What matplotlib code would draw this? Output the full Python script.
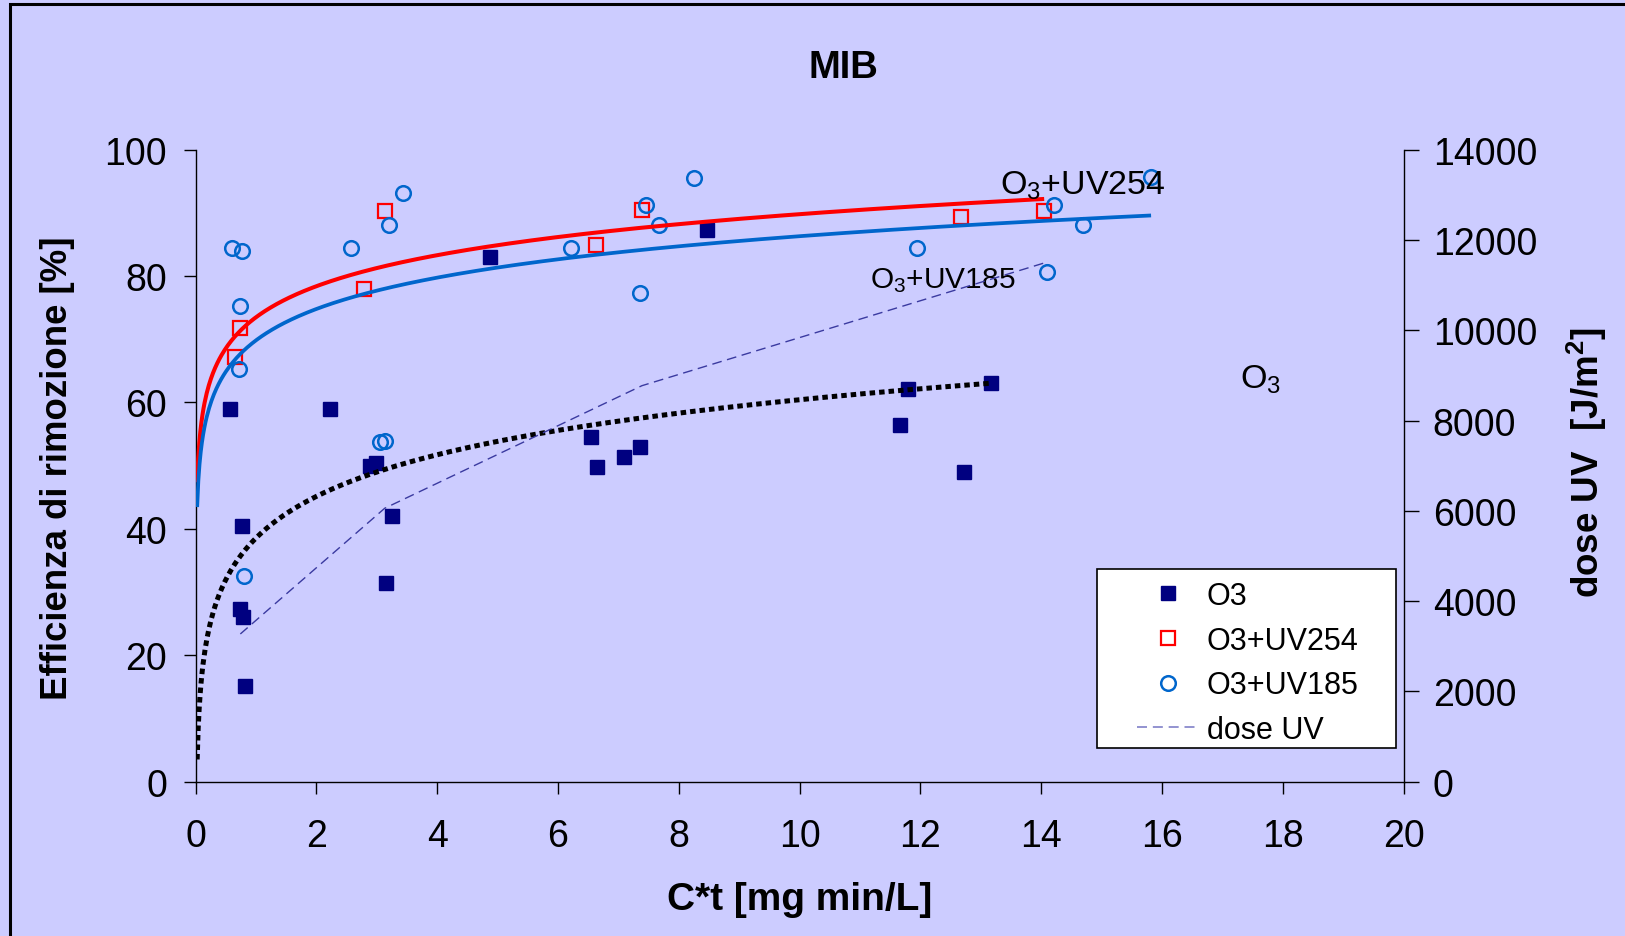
import numpy as np
import matplotlib
matplotlib.use('Agg')
import matplotlib.pyplot as plt
from matplotlib.patches import Rectangle
from matplotlib.lines import Line2D

plt.rcParams['font.family'] = ['Liberation Sans', 'DejaVu Sans']
plt.rcParams['mathtext.fontset'] = 'custom'
plt.rcParams['mathtext.rm'] = 'Liberation Sans'
plt.rcParams['mathtext.bf'] = 'Liberation Sans:bold'
plt.rcParams['mathtext.default'] = 'regular'

# ---------------- data ----------------
o3_x = [0.57, 0.74, 0.76, 0.78, 0.81, 2.22, 2.89, 2.99, 3.16, 3.25,
        4.88, 6.55, 6.65, 7.09, 7.35, 8.47, 11.67, 11.80, 12.73, 13.17]
o3_y = [58.9, 27.3, 40.5, 26.0, 15.2, 58.9, 50.0, 50.5, 31.4, 42.1,
        83.0, 54.6, 49.8, 51.3, 53.0, 87.3, 56.4, 62.1, 49.05, 63.1]

uv254_x = [0.65, 0.74, 2.78, 3.13, 6.63, 7.39, 12.67, 14.05]
uv254_y = [67.15, 71.8, 77.96, 90.35, 84.9, 90.5, 89.3, 90.35]

uv185_x = [0.61, 0.76, 0.74, 0.72, 0.806, 2.58, 3.43, 3.20, 3.05, 3.13,
           6.22, 7.46, 7.67, 7.36, 8.25, 11.95, 14.22, 14.69, 14.09, 15.82]
uv185_y = [84.4, 83.9, 75.2, 65.3, 32.5, 84.4, 93.1, 88.1, 53.7, 53.9,
           84.4, 91.3, 88.1, 77.3, 95.5, 84.4, 91.3, 88.1, 80.7, 95.7]

dose_x = [0.74, 3.13, 7.39, 14.05]
dose_y = [3272, 6056, 8772, 11490]

x_ticks = list(range(0, 21, 2))
y_ticks = list(range(0, 101, 20))
y2_ticks = list(range(0, 14001, 2000))

BG = '#CCCCFF'
NAVY = '#000080'
RED = '#FF0000'
BLUE = '#0066CC'
DOSE = '#3A3AA0'

fig = plt.figure(figsize=(16.25, 9.37), dpi=100, facecolor=BG)
ax = fig.add_axes([0.1204, 0.1647, 0.7433, 0.6745])
ax.set_facecolor(BG)
ax.set_xlim(0, 20)
ax.set_ylim(0, 100)
ax.set_xticks(x_ticks)
ax.set_yticks(y_ticks)
for s in ['top', 'right']:
    ax.spines[s].set_visible(False)
for s in ['left', 'bottom']:
    ax.spines[s].set_linewidth(1.0)
ax.tick_params(axis='x', direction='out', length=8.5, width=1, labelsize=27, pad=17.5)
ax.tick_params(axis='y', direction='out', length=8.5, width=1, labelsize=27, pad=12)

# scatter series
ax.plot(o3_x, o3_y, ls='none', marker='s', ms=10.7, mfc=NAVY, mec=NAVY, mew=1, zorder=2)
ax.plot(uv254_x, uv254_y, ls='none', marker='s', ms=10, mfc='none', mec=RED, mew=1.6, zorder=2)
ax.plot(uv185_x, uv185_y, ls='none', marker='o', ms=10.5, mfc='none', mec=BLUE, mew=1.8, zorder=2)

# logarithmic trend lines fitted from data
def logfit(xs, ys):
    a, b = np.polyfit(np.log(xs), ys, 1)
    xx = np.linspace(0.025, max(xs), 800)
    return xx, a * np.log(xx) + b

xx, yy = logfit(uv254_x, uv254_y)
ax.plot(xx, yy, color=RED, lw=2.9, zorder=3, solid_capstyle='butt')
xx, yy = logfit(uv185_x, uv185_y)
ax.plot(xx, yy, color=BLUE, lw=2.7, zorder=3, solid_capstyle='butt')
xx, yy = logfit(o3_x, o3_y)
ax.plot(xx, yy, color='black', lw=3.6, ls=(0, (1.1, 0.8)), dash_capstyle='butt', zorder=3)

# secondary axis
ax2 = ax.twinx()
ax2.set_ylim(0, 14000)
ax2.set_yticks(y2_ticks)
ax2.patch.set_visible(False)
for s in ['top', 'left', 'bottom']:
    ax2.spines[s].set_visible(False)
ax2.spines['right'].set_linewidth(1.0)
ax2.tick_params(axis='y', direction='out', length=11, width=1, labelsize=27, pad=10)
ax2.plot(dose_x, dose_y, color=DOSE, lw=1.0, dashes=(7, 4))

# labels
ax.set_xlabel('C*t [mg min/L]', fontsize=28, fontweight='bold')
ax.xaxis.label.set_va('center')
ax.xaxis.set_label_coords(0.5, -0.185)
ax.set_ylabel('Efficienza di rimozione [%]', fontsize=26.4, fontweight='bold')
ax.yaxis.label.set_va('center')
ax.yaxis.label.set_ha('center')
ax.yaxis.set_label_coords(-0.114, 0.498)
ax2.set_ylabel(r'dose UV  [J/m$^{\mathbf{2}}$]', fontsize=26.5, fontweight='bold', rotation=90)
ax2.yaxis.label.set_va('center')
ax2.yaxis.label.set_ha('center')
ax2.yaxis.set_label_coords(1.152, 0.507)

fig.text(0.519, 1 - 68 / 937, 'MIB', fontsize=27.5, fontweight='bold', ha='center', va='center')

# annotations
ax.text(13.32, 93.0, 'O$_3$+UV254', fontsize=24.5, ha='left', va='baseline', zorder=6)
ax.text(11.16, 78.2, 'O$_3$+UV185', fontsize=21.5, ha='left', va='baseline', zorder=6)
ax.text(17.29, 62.3, 'O$_3$', fontsize=24.5, ha='left', va='baseline', zorder=6)

# legend
box = Rectangle((0.7465, 0.0528), 0.2473, 0.2837, transform=ax2.transAxes,
                facecolor='white', edgecolor='black', lw=1.2, zorder=4.5, clip_on=False)
ax2.add_patch(box)
handles = [
    Line2D([], [], ls='none', marker='s', ms=10.5, mfc=NAVY, mec=NAVY),
    Line2D([], [], ls='none', marker='s', ms=10, mfc='none', mec=RED, mew=1.6),
    Line2D([], [], ls='none', marker='o', ms=10.5, mfc='none', mec=BLUE, mew=1.8),
    Line2D([], [], color='#8080C8', lw=1.2, dashes=(6, 3.5)),
]
labels = ['O3', 'O3+UV254', 'O3+UV185', 'dose UV']
leg = ax2.legend(handles, labels, loc='upper left', bbox_to_anchor=(0.7791, 0.3176),
                 frameon=False, fontsize=22, borderpad=0, borderaxespad=0,
                 labelspacing=0.48, handlelength=2.07, handletextpad=0.22)
leg.set_zorder(6)

# outer chart border
fig.patches.append(Rectangle((10 / 1625, -0.1), 1.2, 1.1 - 5 / 937, transform=fig.transFigure,
                             fill=False, edgecolor='black', lw=2.2))

fig.savefig('out.png', dpi=100, facecolor=BG)
